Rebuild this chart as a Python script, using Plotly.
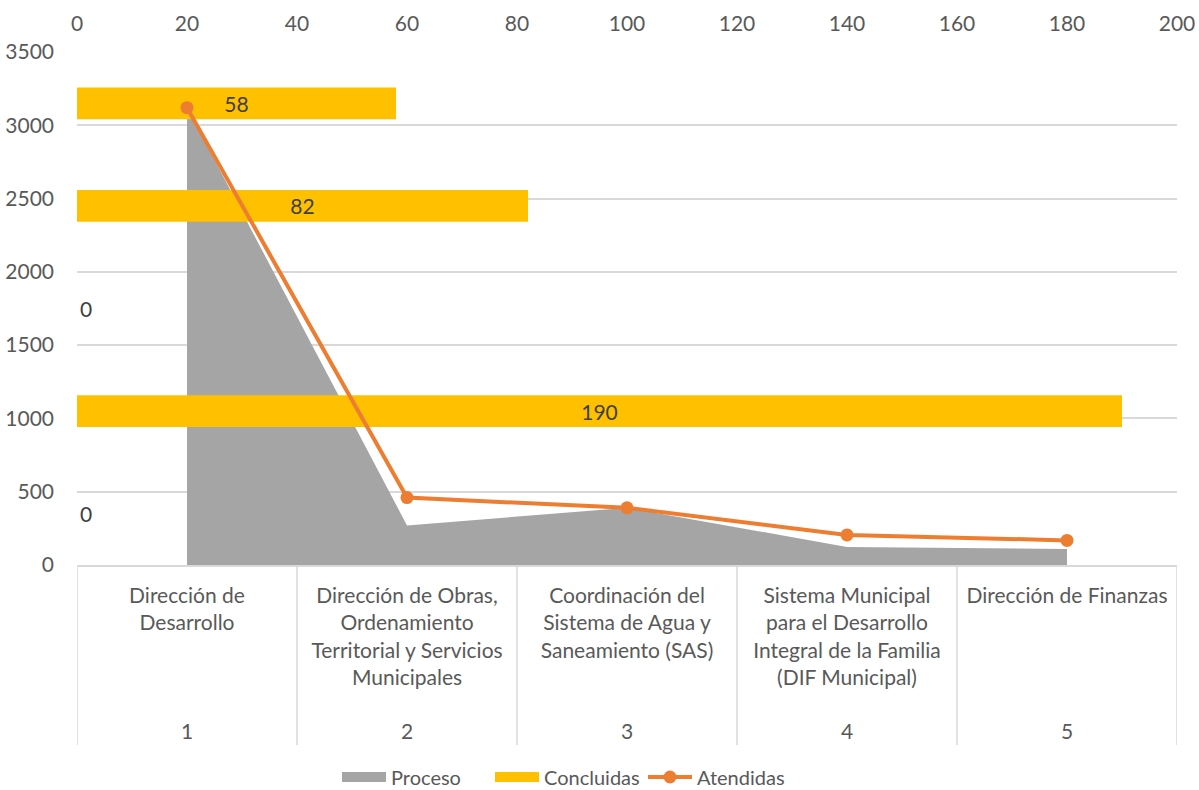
import plotly.graph_objects as go

# ---- data ----
numbers = ["1", "2", "3", "4", "5"]
names = [
    "Dirección de<br>Desarrollo",
    "Dirección de Obras,<br>Ordenamiento<br>Territorial y Servicios<br>Municipales",
    "Coordinación del<br>Sistema de Agua y<br>Saneamiento (SAS)",
    "Sistema Municipal<br>para el Desarrollo<br>Integral de la Familia<br>(DIF Municipal)",
    "Dirección de Finanzas",
]
proceso = [3120, 270, 390, 123, 110]
concluidas = [0, 190, 0, 82, 58]
atendidas = [3120, 460, 390, 205, 168]

FONT = "Lato"
FS = 21
GRAY_TXT = "#595959"
GRID = "#D9D9D9"
C_PROC = "#A5A5A5"
C_CONC = "#FFC000"
C_ATEN = "#ED7D31"

# figure a bit taller than the window so the legend can sit near the bottom edge
W, H = 1199, 820
ML, MR, MT = 77, 22, 52
PLOT_BOTTOM = 565
MB = H - PLOT_BOTTOM
PLOT_H = PLOT_BOTTOM - MT
PLOT_W = W - ML - MR

fig = go.Figure()

# Area (base layer)
fig.add_trace(go.Scatter(
    x=names, y=proceso, name="Proceso",
    mode="none", fill="tozeroy", fillcolor=C_PROC, showlegend=False,
    xaxis="x", yaxis="y",
))

# Horizontal bars (overlay layer)
fig.add_trace(go.Bar(
    x=concluidas, y=numbers, orientation="h", name="Concluidas",
    marker=dict(color=C_CONC, line=dict(width=0)),
    width=0.31, showlegend=False,
    text=[str(v) for v in concluidas],
    textposition=["outside" if v == 0 else "inside" for v in concluidas],
    insidetextanchor="middle", textangle=0, constraintext="none",
    textfont=dict(family=FONT, size=FS, color="#404040"),
    cliponaxis=False,
    xaxis="x2", yaxis="y2",
))

# Line (top layer)
fig.add_trace(go.Scatter(
    x=names, y=atendidas, name="Atendidas",
    mode="lines+markers",
    line=dict(color=C_ATEN, width=4),
    marker=dict(color=C_ATEN, size=13),
    showlegend=False,
    xaxis="x3", yaxis="y3",
))

# legend entries (wide rectangles like the original)
for nm, col, rank in [("Proceso", C_PROC, 1), ("Concluidas", C_CONC, 2)]:
    fig.add_trace(go.Scatter(
        x=[None], y=[None], name=nm, mode="lines",
        line=dict(color=col, width=11), legendrank=rank,
        xaxis="x", yaxis="y",
    ))
fig.add_trace(go.Scatter(
    x=[None], y=[None], name="Atendidas", mode="lines+markers",
    line=dict(color=C_ATEN, width=4), marker=dict(color=C_ATEN, size=13),
    legendrank=3, xaxis="x", yaxis="y",
))

# second level of the category axis (numbers) + dividers
annotations = []
for nm, num in zip(names, numbers):
    annotations.append(dict(
        x=nm, xref="x", y=-165 / PLOT_H, yref="paper", text=num,
        showarrow=False, xanchor="center", yanchor="middle",
        font=dict(family=FONT, size=FS, color=GRAY_TXT),
    ))
shapes = []
for i in range(len(names) + 1):
    shapes.append(dict(
        type="line", xref="x", x0=i - 0.5, x1=i - 0.5,
        yref="paper", y0=0, y1=-180 / PLOT_H,
        line=dict(color=GRID, width=1.5), layer="below",
    ))

fig.update_layout(
    width=W, height=H,
    margin=dict(l=ML, r=MR, t=MT, b=MB),
    paper_bgcolor="white", plot_bgcolor="white",
    font=dict(family=FONT, size=FS, color=GRAY_TXT),
    showlegend=True,
    legend=dict(orientation="h", x=(337 - ML) / PLOT_W, xanchor="left",
                y=-(777 - PLOT_BOTTOM) / PLOT_H, yanchor="middle",
                font=dict(family=FONT, size=20, color=GRAY_TXT),
                itemwidth=44, entrywidth=94, bgcolor="rgba(0,0,0,0)"),
    annotations=annotations,
    shapes=shapes,
    xaxis=dict(
        type="category", categoryarray=names, categoryorder="array", range=[-0.5, 4.5],
        showline=True, linecolor=GRID, linewidth=1.5,
        ticks="", showgrid=False, ticklabelstandoff=11, automargin=False,
        tickfont=dict(family=FONT, size=FS, color=GRAY_TXT),
    ),
    yaxis=dict(
        range=[0, 3500], dtick=500, showgrid=True, gridcolor=GRID, gridwidth=1.5,
        zeroline=False, showline=False, ticks="", automargin=False,
        tickfont=dict(family=FONT, size=FS, color=GRAY_TXT),
        ticklabelstandoff=22,
    ),
    xaxis2=dict(
        overlaying="x", side="top", anchor="y2", range=[0, 200], dtick=20,
        showgrid=False, zeroline=False, showline=False, ticks="", automargin=False,
        tickfont=dict(family=FONT, size=FS, color=GRAY_TXT),
        ticklabelstandoff=16,
    ),
    yaxis2=dict(
        overlaying="y", anchor="x2", type="category", range=[-0.5, 4.5],
        categoryarray=numbers, categoryorder="array",
        visible=False, showgrid=False, automargin=False,
    ),
    xaxis3=dict(
        overlaying="x", type="category", categoryarray=names, categoryorder="array",
        range=[-0.5, 4.5], visible=False, showgrid=False, anchor="y3", automargin=False,
    ),
    yaxis3=dict(
        overlaying="y", range=[0, 3500], visible=False, showgrid=False, anchor="x3",
        automargin=False,
    ),
)

fig.write_html("out.html", config={"displayModeBar": False},
               post_script="document.body.style.margin='0px';")
